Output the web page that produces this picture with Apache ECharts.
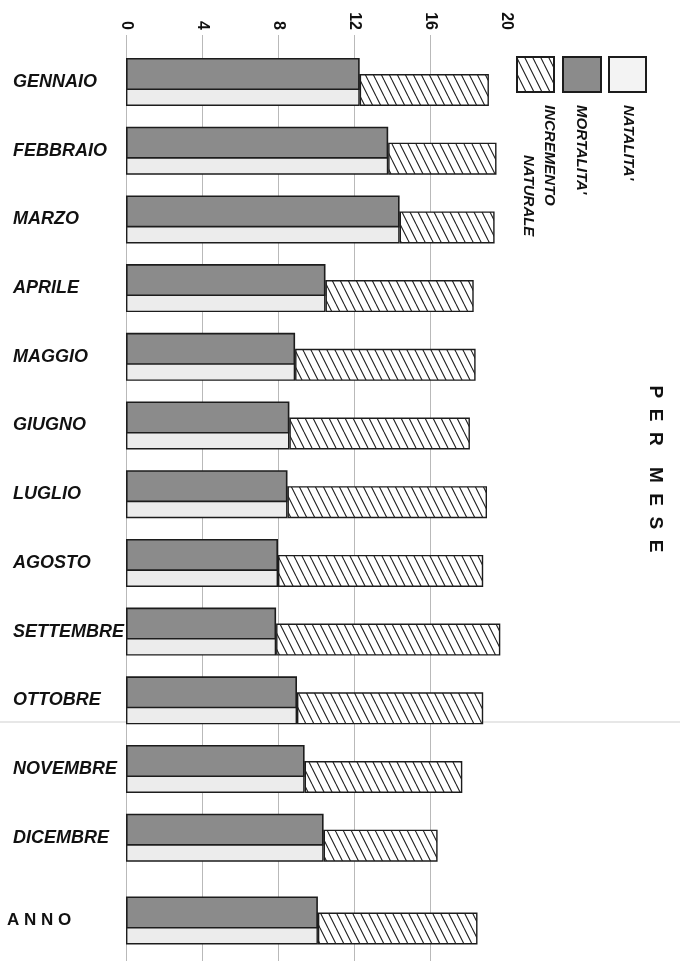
<!DOCTYPE html>
<html><head><meta charset="utf-8">
<script src="https://cdn.jsdelivr.net/npm/echarts@6/dist/echarts.min.js"></script>
<style>html,body{margin:0;padding:0;background:#fff}#c{width:680px;height:961px}</style>
</head><body><div id="c"></div>
<script>
const months = ['GENNAIO','FEBBRAIO','MARZO','APRILE','MAGGIO','GIUGNO','LUGLIO','AGOSTO','SETTEMBRE','OTTOBRE','NOVEMBRE','DICEMBRE'];
const yearCat = ['ANNO'];
const mortalitaMesi = [12.3, 13.8, 14.4, 10.5, 8.9, 8.6, 8.5, 8.0, 7.9, 9.0, 9.4, 10.4];
const natalitaMesi  = [19.1, 19.5, 19.4, 18.3, 18.4, 18.1, 19.0, 18.8, 19.7, 18.8, 17.7, 16.4];
const mortalitaAnno = [10.1];
const natalitaAnno  = [18.5];
const xTicks = [0, 4, 8, 12, 16, 20];
const legendNames = ["INCREMENTO", "NATURALE", "MORTALITA'", "NATALITA'"];
const title = 'P  E  R    M  E  S  E';

function hatchCanvas() {
  const c = document.createElement('canvas');
  c.width = 8; c.height = 16;
  const g = c.getContext('2d');
  g.fillStyle = '#ffffff'; g.fillRect(0, 0, 8, 16);
  g.strokeStyle = '#222'; g.lineWidth = 1.1;
  g.beginPath();
  for (const dx of [-8, 0, 8]) { g.moveTo(dx, 0); g.lineTo(dx + 8, 16); }
  g.stroke();
  return c;
}
const hatch = { image: hatchCanvas(), repeat: 'repeat' };

const GREY = '#8b8b8b', LIGHT = '#ececec', EDGE = '#1c1c1c';
const left = 126, width = 380;
const band = 68.7;
const g1top = 82 - band / 2;

const xMin = xTicks[0], xMax = xTicks[xTicks.length - 1], xInt = xTicks[1] - xTicks[0];
function hiddenX(gi) { return { type: 'value', gridIndex: gi, min: xMin, max: xMax, interval: xInt, show: false }; }
function barSeries(gi, mort, nat) {
  const common = { type: 'bar', xAxisIndex: gi, yAxisIndex: gi, barWidth: 32, barGap: '-50%' };
  return [
    Object.assign({}, common, { name: 'mortalita', data: mort, z: 4,
      itemStyle: { color: GREY, borderColor: EDGE, borderWidth: 1.6 } }),
    Object.assign({}, common, { name: 'natalita', stack: 'n' + gi, data: mort, z: 2,
      itemStyle: { color: LIGHT, borderColor: EDGE, borderWidth: 1.4 } }),
    Object.assign({}, common, { name: 'incremento', stack: 'n' + gi, data: nat.map((v, i) => +(v - mort[i]).toFixed(2)), z: 2,
      itemStyle: { color: hatch, borderColor: EDGE, borderWidth: 1.4 } })
  ];
}
const labelFont = { fontFamily: 'Liberation Sans', fontWeight: 'bold', fontStyle: 'italic', fontSize: 18, color: '#111' };
const legFont = { fontFamily: 'Liberation Sans', fontWeight: 'bold', fontStyle: 'italic', fontSize: 15, fill: '#111' };

const chart = echarts.init(document.getElementById('c'), null, { renderer: 'canvas' });
chart.setOption({
  backgroundColor: '#ffffff',
  animation: false,
  grid: [
    { left: left, width: width, top: 35, height: 926 },
    { left: left, width: width, top: g1top, height: band * 12 },
    { left: left, width: width, top: 920.5 - band / 2, height: band }
  ],
  xAxis: [
    { type: 'value', gridIndex: 0, position: 'top', min: xMin, max: xMax, interval: xInt,
      axisLine: { show: true, lineStyle: { color: '#9a9a9a', width: 1 } },
      axisTick: { show: true, inside: true, length: 24, lineStyle: { color: '#a8a8a8' } },
      axisLabel: { rotate: -90, margin: 5, fontFamily: 'Liberation Sans', fontWeight: 'bold', fontSize: 16, color: '#111' },
      splitLine: { show: true, showMaxLine: false, lineStyle: { color: '#b9b9b9', width: 1 } } },
    hiddenX(1), hiddenX(2)
  ],
  yAxis: [
    { type: 'value', gridIndex: 0, show: false, min: 0, max: 1 },
    { type: 'category', gridIndex: 1, data: months, inverse: true,
      axisLine: { show: false }, axisTick: { show: false }, splitLine: { show: false },
      axisLabel: Object.assign({ align: 'left', margin: 113 }, labelFont) },
    { type: 'category', gridIndex: 2, data: yearCat, inverse: true,
      axisLine: { show: false }, axisTick: { show: false }, splitLine: { show: false },
      axisLabel: { align: 'left', margin: 119, fontFamily: 'Liberation Sans', fontWeight: 'bold', fontSize: 17, color: '#111',
        formatter: v => v.split('').join(' ') } }
  ],
  series: [].concat(barSeries(1, mortalitaMesi, natalitaMesi), barSeries(2, mortalitaAnno, natalitaAnno)),
  graphic: [
    { type: 'line', shape: { x1: 0, y1: 722, x2: 680, y2: 722 }, style: { stroke: '#cfcfcf', lineWidth: 1 }, z: -1 },
    { type: 'rect', shape: { x: 517, y: 57, width: 37, height: 35 }, style: { fill: hatch, stroke: EDGE, lineWidth: 2 } },
    { type: 'rect', shape: { x: 563, y: 57, width: 38, height: 35 }, style: { fill: GREY, stroke: EDGE, lineWidth: 2 } },
    { type: 'rect', shape: { x: 609, y: 57, width: 37, height: 35 }, style: { fill: '#f3f3f3', stroke: EDGE, lineWidth: 2 } },
    { type: 'text', x: 549, y: 105, rotation: -Math.PI / 2, style: Object.assign({ text: legendNames[0], textAlign: 'left', textVerticalAlign: 'middle' }, legFont) },
    { type: 'text', x: 528, y: 155, rotation: -Math.PI / 2, style: Object.assign({ text: legendNames[1], textAlign: 'left', textVerticalAlign: 'middle' }, legFont) },
    { type: 'text', x: 581, y: 105, rotation: -Math.PI / 2, style: Object.assign({ text: legendNames[2], textAlign: 'left', textVerticalAlign: 'middle' }, legFont) },
    { type: 'text', x: 628, y: 105, rotation: -Math.PI / 2, style: Object.assign({ text: legendNames[3], textAlign: 'left', textVerticalAlign: 'middle' }, legFont) },
    { type: 'text', x: 655, y: 469, rotation: -Math.PI / 2, style: { text: title, textAlign: 'center', textVerticalAlign: 'middle', fontFamily: 'Liberation Sans', fontWeight: 'bold', fontSize: 19, fill: '#111' } }
  ]
});
</script>
</body></html>
